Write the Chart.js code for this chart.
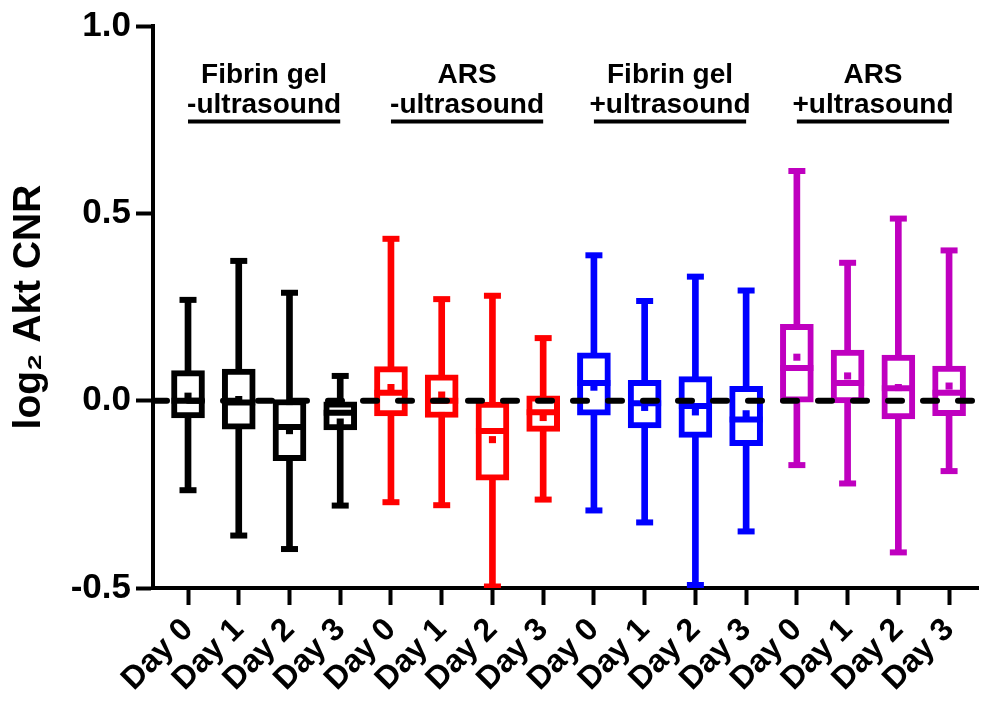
<!DOCTYPE html>
<html>
<head>
<meta charset="utf-8">
<script src="https://cdn.jsdelivr.net/npm/chart.js@4.4.0/dist/chart.umd.min.js"></script>
<style>
  html, body { margin: 0; padding: 0; background: #fff; }
</style>
</head>
<body>
<canvas id="chart" width="987" height="715"></canvas>
<script>
// --- DATA ---
const dayLabels = ['Day 0', 'Day 1', 'Day 2', 'Day 3',
                   'Day 0', 'Day 1', 'Day 2', 'Day 3',
                   'Day 0', 'Day 1', 'Day 2', 'Day 3',
                   'Day 0', 'Day 1', 'Day 2', 'Day 3'];
const groupTop = ['Fibrin gel', 'ARS', 'Fibrin gel', 'ARS'];
const groupBottom = ['-ultrasound', '-ultrasound', '+ultrasound', '+ultrasound'];
const groupColors = ['#000000', '#ff0000', '#0000ff', '#bf00bf'];

// box plot stats, one entry per day column
const mins    = [-0.239, -0.360, -0.396, -0.280,  -0.271, -0.279, -0.496, -0.264,  -0.293, -0.325, -0.492, -0.349,  -0.172, -0.221, -0.405, -0.188];
const q1s     = [-0.046, -0.076, -0.160, -0.078,  -0.041, -0.045, -0.212, -0.082,  -0.039, -0.073, -0.098, -0.120,  -0.004, -0.006, -0.049, -0.040];
const medians = [ 0.000, -0.005, -0.070, -0.032,   0.021,  0.000, -0.081, -0.031,   0.047, -0.007, -0.014, -0.050,   0.087,  0.047,  0.033,  0.021];
const q3s     = [ 0.080,  0.084,  0.003, -0.003,   0.091,  0.069, -0.004,  0.013,   0.128,  0.054,  0.064,  0.038,   0.204,  0.135,  0.122,  0.092];
const maxs    = [ 0.269,  0.373,  0.288,  0.066,   0.432,  0.271,  0.280,  0.167,   0.388,  0.266,  0.331,  0.294,   0.613,  0.368,  0.486,  0.401];
const means   = [ 0.012,  0.003, -0.080, -0.057,   0.035,  0.015, -0.104, -0.045,   0.036, -0.018, -0.030, -0.035,   0.116,  0.066,  0.035,  0.039];

const yTicks = [-0.5, 0.0, 0.5, 1.0];

// --- LAYOUT CONSTANTS ---
const X_MIN = -0.69;
const X_MAX = 15.57;
const GROUP_LINE_Y = 0.745;
const FONT = '"Liberation Sans", Arial, Helvetica, sans-serif';

const idx = dayLabels.map((_, i) => i);
const colors = idx.map(i => groupColors[Math.floor(i / 4)]);
const pts = arr => arr.map((v, i) => ({ x: i, y: v }));

// group headers with underline
const groupLabels = {
    id: 'groupLabels',
    afterDatasetsDraw(chart) {
        const { ctx, scales: { x, y } } = chart;
        const lineY = y.getPixelForValue(GROUP_LINE_Y);
        ctx.save();
        ctx.fillStyle = '#000';
        ctx.strokeStyle = '#000';
        ctx.lineWidth = 4;
        ctx.font = 'bold 28px ' + FONT;
        ctx.textAlign = 'center';
        groupTop.forEach((name, g) => {
            const x0 = x.getPixelForValue(g * 4);
            const x1 = x.getPixelForValue(g * 4 + 3);
            ctx.beginPath();
            ctx.moveTo(x0, lineY);
            ctx.lineTo(x1, lineY);
            ctx.stroke();
            const cx = (x0 + x1) / 2;
            ctx.fillText(name, cx, lineY - 39);
            ctx.fillText(groupBottom[g], cx, lineY - 9);
        });
        ctx.restore();
    }
};

new Chart(document.getElementById('chart'), {
    type: 'bar',
    data: {
        datasets: [
            {
                // dashed zero line
                type: 'line',
                data: [{ x: X_MIN, y: 0 }, { x: X_MAX, y: 0 }],
                borderColor: '#000',
                borderWidth: 6,
                borderDash: [14, 21],
                borderCapStyle: 'round',
                pointRadius: 0,
                order: 0
            },
            {
                // means
                type: 'scatter',
                data: pts(means),
                pointStyle: 'rect',
                pointRadius: 5,
                pointBackgroundColor: colors,
                pointBorderWidth: 0,
                order: 1
            },
            {
                // medians
                type: 'scatter',
                data: pts(medians),
                pointStyle: 'line',
                pointRadius: 16.5,
                pointBorderColor: colors,
                pointBorderWidth: 6,
                order: 2
            },
            {
                // whisker caps
                type: 'scatter',
                data: pts(mins).concat(pts(maxs)),
                pointStyle: 'line',
                pointRadius: 8.5,
                pointBorderColor: colors.concat(colors),
                pointBorderWidth: 6,
                order: 2
            },
            {
                // boxes
                type: 'bar',
                data: idx.map(i => ({ x: i, y: [q1s[i], q3s[i]] })),
                backgroundColor: '#fff',
                borderColor: colors,
                borderWidth: 6,
                borderSkipped: false,
                barThickness: 33,
                grouped: false,
                order: 3
            },
            {
                // whiskers
                type: 'bar',
                data: idx.map(i => ({ x: i, y: [mins[i], maxs[i]] })),
                backgroundColor: colors,
                borderWidth: 0,
                barThickness: 6,
                grouped: false,
                order: 4
            }
        ]
    },
    options: {
        responsive: false,
        animation: false,
        events: [],
        layout: { autoPadding: false, padding: { top: 26, right: 9, left: 0, bottom: 0 } },
        plugins: {
            legend: { display: false },
            tooltip: { enabled: false }
        },
        scales: {
            x: {
                type: 'linear',
                min: X_MIN,
                max: X_MAX,
                offset: false,
                afterBuildTicks: s => { s.ticks = idx.map(v => ({ value: v })); },
                afterFit: s => { s.height = 127; s.paddingRight = 0; s.paddingLeft = 0; },
                ticks: {
                    autoSkip: false,
                    maxRotation: 45,
                    minRotation: 45,
                    padding: 6,
                    color: '#000',
                    font: { family: FONT, size: 32, weight: 'bold' },
                    callback: v => dayLabels[v]
                },
                grid: { drawOnChartArea: false, offset: false, tickLength: 17, tickWidth: 4, tickColor: '#000' },
                border: { display: true, width: 4, color: '#000' }
            },
            y: {
                min: -0.5,
                max: 1.0,
                afterBuildTicks: s => { s.ticks = yTicks.map(v => ({ value: v })); },
                afterFit: s => { s.width = 153; },
                ticks: {
                    padding: 5,
                    color: '#000',
                    font: { family: FONT, size: 35, weight: 'bold' },
                    callback: v => v.toFixed(1)
                },
                grid: { drawOnChartArea: false, tickLength: 17, tickWidth: 4, tickColor: '#000' },
                border: { display: true, width: 4, color: '#000' },
                title: {
                    display: true,
                    text: 'log\u2082 Akt CNR',
                    color: '#000',
                    padding: { top: 6, bottom: 0 },
                    font: { family: FONT, size: 39, weight: 'bold' }
                }
            }
        }
    },
    plugins: [groupLabels]
});
</script>
</body>
</html>
